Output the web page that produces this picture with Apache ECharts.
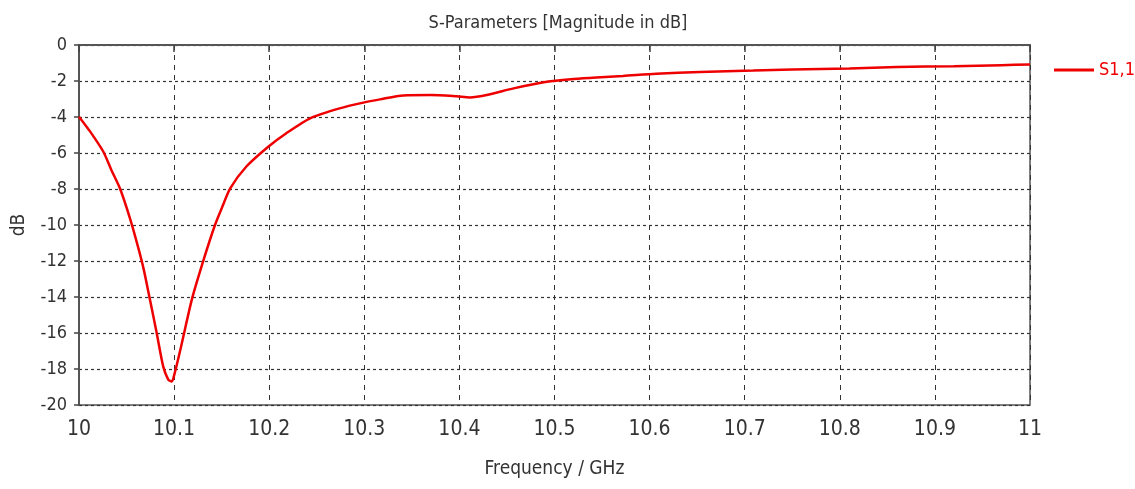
<!DOCTYPE html>
<html>
<head>
<meta charset="utf-8">
<script src="https://cdn.jsdelivr.net/npm/echarts@6/dist/echarts.min.js"></script>
<style>
  html, body { margin: 0; padding: 0; background: #fff; }
  #chart { width: 1135px; height: 489px; }
</style>
</head>
<body>
<div id="chart"></div>
<script>
// frequency in GHz, S11 in dB
var freq = [10.0, 10.0116, 10.0256, 10.034, 10.043, 10.0536, 10.062, 10.068, 10.0747, 10.0817, 10.0886,
  10.094, 10.0975, 10.101, 10.108, 10.1185, 10.131, 10.143, 10.151, 10.159, 10.176,
  10.199, 10.218, 10.243, 10.274, 10.299, 10.3165, 10.341, 10.37, 10.397, 10.411, 10.43, 10.457,
  10.492, 10.52, 10.544, 10.572, 10.607, 10.653, 10.709, 10.75, 10.81, 10.86, 10.92, 10.97, 11.0];
var s11 = [-3.98, -4.8, -5.93, -6.94, -7.96, -9.63, -11.2, -12.45, -14.17, -16.0, -17.87,
  -18.6, -18.7, -18.15, -16.6, -14.17, -11.94, -10.0, -8.95, -7.96, -6.75,
  -5.65, -4.9, -4.07, -3.52, -3.2, -3.02, -2.8, -2.78, -2.85, -2.91, -2.76, -2.41,
  -2.04, -1.89, -1.8, -1.72, -1.6, -1.5, -1.42, -1.36, -1.3, -1.22, -1.18, -1.12, -1.08];
var seriesName = 'S1,1';

var pts = [];
for (var i = 0; i < freq.length; i++) {
  pts.push([freq[i], s11[i]]);
}

var font = "'Liberation Sans Narrow', 'DejaVu Sans Condensed', sans-serif";
var myChart = echarts.init(document.getElementById('chart'));

var option = {
  animation: false,
  title: {
    text: 'S-Parameters [Magnitude in dB]',
    left: 553,
    top: 9,
    textAlign: 'center',
    textStyle: { fontFamily: font, fontSize: 18, fontWeight: 'normal', color: '#333' }
  },
  legend: {
    data: [seriesName],
    left: 1049,
    top: 56,
    icon: 'rect',
    itemWidth: 40,
    itemHeight: 3,
    itemGap: 8,
    textStyle: { fontFamily: font, fontSize: 18, color: '#e00' }
  },
  grid: {
    left: 79, right: 105, top: 45, bottom: 84,
    show: true,
    borderColor: '#555',
    borderWidth: 1.5
  },
  xAxis: {
    type: 'value',
    min: 10,
    max: 11,
    interval: 0.1,
    name: 'Frequency / GHz',
    nameLocation: 'middle',
    nameGap: 55,
    nameTextStyle: { fontFamily: font, fontSize: 19, color: '#333' },
    axisLine: { lineStyle: { color: '#555', width: 2 } },
    axisTick: { show: true, length: 7, lineStyle: { color: '#444', width: 1.5 } },
    axisLabel: {
      margin: 14, fontFamily: font, fontSize: 21, color: '#333',
      formatter: function (v) { return String(Math.round(v * 10) / 10); }
    },
    splitLine: { show: true, lineStyle: { color: '#333', type: [5, 5], width: 1 } }
  },
  yAxis: {
    type: 'value',
    min: -20,
    max: 0,
    interval: 2,
    name: 'dB',
    nameLocation: 'middle',
    nameGap: 50,
    nameTextStyle: { fontFamily: font, fontSize: 19, color: '#333' },
    axisLine: { show: true, lineStyle: { color: '#555', width: 2 } },
    axisTick: { show: true, length: 5, lineStyle: { color: '#444', width: 1.5 } },
    axisLabel: { margin: 12, fontFamily: font, fontSize: 18, color: '#333' },
    splitLine: { show: true, lineStyle: { color: '#333', type: [3, 3], width: 1.2 } }
  },
  series: [{
    name: seriesName,
    type: 'line',
    data: pts,
    showSymbol: false,
    smooth: 0.25,
    lineStyle: { color: '#e00', width: 2.5 },
    itemStyle: { color: '#e00' }
  }]
};
myChart.setOption(option);
</script>
</body>
</html>
